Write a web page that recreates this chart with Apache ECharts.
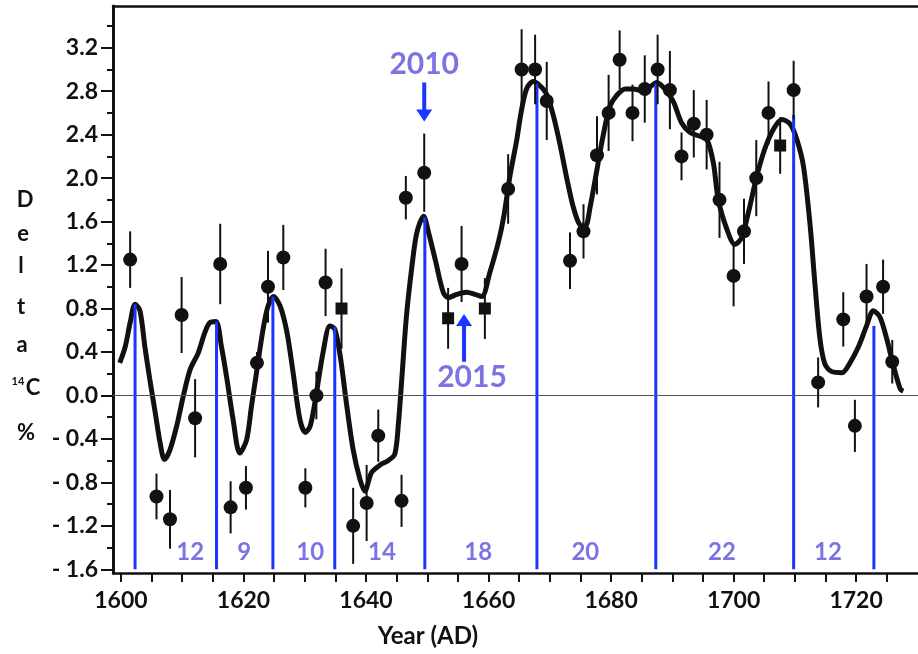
<!DOCTYPE html>
<html><head><meta charset="utf-8">
<script src="https://cdn.jsdelivr.net/npm/echarts@6/dist/echarts.min.js"></script>
<style>html,body{margin:0;padding:0;background:#fff}#c{width:918px;height:654px}</style>
</head><body><div id="c"></div>
<script>
// ---- data ----
const obsYears  = [1601.5,1605.8,1608.0,1609.9,1612.1,1616.2,1617.9,1620.4,1622.2,1624.0,1626.5,1630.1,1631.9,1633.4,1636.0,1637.9,1640.1,1642.0,1645.8,1646.5,1649.5,1653.4,1655.6,1659.4,1663.2,1665.4,1667.6,1669.5,1673.3,1675.5,1677.7,1679.6,1681.4,1683.5,1685.5,1687.6,1689.6,1691.5,1693.5,1695.6,1697.7,1700.0,1701.7,1703.7,1705.7,1707.6,1709.8,1713.8,1717.9,1719.8,1721.7,1724.4,1725.9];
const obsValues = [1.25,-0.93,-1.14,0.74,-0.21,1.21,-1.03,-0.85,0.30,1.00,1.27,-0.85,0.00,1.04,0.80,-1.20,-0.99,-0.37,-0.97,1.82,2.05,0.71,1.21,0.80,1.90,3.00,3.00,2.71,1.24,1.51,2.21,2.60,3.09,2.60,2.82,3.00,2.81,2.20,2.50,2.40,1.80,1.10,1.51,2.00,2.60,2.30,2.81,0.12,0.70,-0.28,0.91,1.00,0.31];
const obsErrors = [0.26,0.21,0.27,0.35,0.36,0.37,0.24,0.20,0.10,0.33,0.30,0.18,0.22,0.31,0.37,0.35,0.35,0.24,0.24,0.20,0.36,0.28,0.35,0.28,0.32,0.37,0.32,0.36,0.26,0.25,0.36,0.35,0.27,0.26,0.31,0.32,0.36,0.22,0.31,0.32,0.35,0.28,0.30,0.35,0.29,0.26,0.27,0.23,0.25,0.24,0.30,0.25,0.20];
const obsShapes = ['c','c','c','c','c','c','c','c','c','c','c','c','c','c','s','c','c','c','c','c','c','s','c','s','c','c','c','c','c','c','c','c','c','c','c','c','c','c','c','c','c','c','c','c','c','s','c','c','c','c','c','c','c'];

const curveYears  = [1599.8,1600.7,1601.5,1602.3,1603.1,1603.9,1604.7,1605.6,1606.4,1607.1,1608.0,1609.1,1610.2,1611.3,1612.6,1613.7,1614.5,1615.5,1616.4,1617.3,1618.3,1619.4,1620.5,1621.3,1622.2,1623.2,1624.0,1624.9,1626.0,1627.1,1628.1,1629.2,1630.1,1630.9,1631.9,1633.0,1634.1,1634.9,1635.8,1636.8,1637.9,1639.0,1639.8,1640.9,1642.3,1643.6,1644.7,1645.3,1645.8,1646.6,1647.5,1648.3,1649.4,1650.2,1651.3,1652.6,1653.4,1654.8,1656.4,1657.8,1658.9,1660.2,1661.6,1662.5,1663.5,1664.6,1665.3,1666.2,1667.3,1668.4,1669.5,1670.6,1671.7,1672.8,1673.8,1674.9,1675.8,1676.6,1677.7,1678.7,1679.8,1680.9,1682.3,1683.6,1685.3,1686.6,1687.4,1688.8,1690.2,1691.5,1692.9,1694.3,1695.6,1696.7,1697.5,1698.9,1700.2,1701.3,1702.4,1703.8,1705.1,1706.5,1707.9,1709.2,1710.3,1711.4,1712.5,1713.3,1714.1,1714.9,1716.0,1717.7,1719.0,1720.4,1721.7,1722.8,1723.9,1725.0,1726.1,1727.2,1727.7];
const curveValues = [0.30,0.45,0.67,0.84,0.78,0.45,0.15,-0.16,-0.44,-0.59,-0.50,-0.28,0.00,0.24,0.39,0.58,0.67,0.68,0.45,0.15,-0.22,-0.53,-0.41,-0.10,0.24,0.61,0.82,0.91,0.82,0.58,0.21,-0.22,-0.34,-0.28,0.02,0.40,0.64,0.61,0.36,-0.07,-0.50,-0.77,-0.88,-0.71,-0.64,-0.60,-0.54,-0.25,0.12,0.73,1.19,1.50,1.65,1.50,1.25,0.95,0.90,0.93,0.95,0.93,0.91,1.13,1.41,1.65,2.02,2.35,2.60,2.82,2.89,2.85,2.77,2.57,2.30,1.99,1.74,1.57,1.56,1.74,2.08,2.39,2.66,2.76,2.82,2.82,2.80,2.85,2.88,2.82,2.70,2.51,2.42,2.39,2.36,2.14,1.80,1.53,1.39,1.45,1.68,2.02,2.27,2.45,2.54,2.50,2.36,2.11,1.56,1.01,0.52,0.29,0.22,0.21,0.30,0.45,0.64,0.78,0.72,0.52,0.27,0.06,0.04];

const cycleYears = [1602.3,1615.6,1624.8,1634.9,1649.6,1667.9,1687.3,1709.8,1722.9];
const cycleTops  = [0.84,0.68,0.91,0.63,1.64,2.87,2.87,2.58,0.64];

const periodLabels = ['12','9','10','14','18','20','22','12'];
const periodYears  = [1611.3,1620.1,1630.9,1642.6,1658.3,1675.8,1698.1,1715.4];
const periodValue  = -1.44;

const annoLabels = ['2010','2015'];
const annoYears  = [1649.5,1657.3];
const annoValues = [3.05,0.17];
const arrowYears = [1649.5,1656.0];
const arrowFrom  = [2.88,0.31];
const arrowTo    = [2.52,0.75];

const xTickLabels = [1600,1620,1640,1660,1680,1700,1720];
const yTickLabels = [-1.6,-1.2,-0.8,-0.4,0.0,0.4,0.8,1.2,1.6,2.0,2.4,2.8,3.2];

// ---- chart ----
const X_MIN = 1598.7, X_MAX = 1730.1, Y_MIN = -1.634, Y_MAX = 3.584;
const xMinorTicks = []; for (let v = 1600; v <= 1725; v += 5) xMinorTicks.push(v);
const yMinorTicks = yTickLabels.map(v => +(v + 0.2).toFixed(1));
const FONT = 'Lato, "Open Sans", sans-serif';
const BLUE = '#1a35ff';
const LAV = '#5b50dc';
const INK = '#111';

const chart = echarts.init(document.getElementById('c'), null, {renderer:'canvas'});
const option = {
  backgroundColor: '#fff',
  animation: false,
  grid: {left: 113, right: 0, top: 6, bottom: 81},
  xAxis: [{
    type: 'value', min: X_MIN, max: X_MAX, position: 'bottom',
    axisLine: {show: true, onZero: false, lineStyle: {color: INK, width: 2.5}},
    axisTick: {show: true, customValues: xMinorTicks, length: 9, lineStyle: {color: INK, width: 2}},
    axisLabel: {customValues: xTickLabels, margin: 16, color: INK, fontSize: 23, fontWeight: 'bold', fontFamily: FONT,
      formatter: v => String(Math.round(v))},
    splitLine: {show: false}
  }, {
    type: 'value', min: X_MIN, max: X_MAX, position: 'top',
    axisLine: {show: true, onZero: false, lineStyle: {color: INK, width: 2.5}},
    axisTick: {show: false}, axisLabel: {show: false}, splitLine: {show: false}
  }],
  yAxis: [{
    type: 'value', min: Y_MIN, max: Y_MAX, position: 'left',
    axisLine: {show: true, onZero: false, lineStyle: {color: INK, width: 3}},
    axisTick: {show: true, customValues: yTickLabels, length: 12, lineStyle: {color: INK, width: 2}},
    axisLabel: {customValues: yTickLabels, margin: 15, color: INK, fontSize: 23, fontWeight: 'bold', fontFamily: FONT,
      formatter: v => (v < -1e-9 ? '- ' + Math.abs(v).toFixed(1) : Math.abs(v).toFixed(1))},
    splitLine: {show: false}
  }, {
    type: 'value', min: Y_MIN, max: Y_MAX, position: 'left', offset: 0,
    axisLine: {show: false},
    axisTick: {show: true, customValues: yMinorTicks, length: 6, lineStyle: {color: INK, width: 2}},
    axisLabel: {show: false}, splitLine: {show: false}
  }],
  graphic: [
    {type: 'text', x: 428, y: 636, style: {text: 'Year (AD)', font: 'bold 24px ' + FONT, fill: INK, align: 'center', verticalAlign: 'middle'}},
    {type: 'text', x: 25, y: 200, style: {text: 'D', font: 'bold 22px ' + FONT, fill: INK, align: 'center', verticalAlign: 'middle'}},
    {type: 'text', x: 23, y: 234, style: {text: 'e', font: 'bold 22px ' + FONT, fill: INK, align: 'center', verticalAlign: 'middle'}},
    {type: 'text', x: 21, y: 266, style: {text: 'l', font: 'bold 22px ' + FONT, fill: INK, align: 'center', verticalAlign: 'middle'}},
    {type: 'text', x: 21, y: 307, style: {text: 't', font: 'bold 22px ' + FONT, fill: INK, align: 'center', verticalAlign: 'middle'}},
    {type: 'text', x: 22, y: 345, style: {text: 'a', font: 'bold 22px ' + FONT, fill: INK, align: 'center', verticalAlign: 'middle'}},
    {type: 'text', x: 18, y: 381, style: {text: '14', font: 'bold 11px ' + FONT, fill: INK, align: 'center', verticalAlign: 'middle'}},
    {type: 'text', x: 33, y: 388, style: {text: 'C', font: 'bold 22px ' + FONT, fill: INK, align: 'center', verticalAlign: 'middle'}},
    {type: 'text', x: 26, y: 433, style: {text: '%', font: 'bold 22px ' + FONT, fill: INK, align: 'center', verticalAlign: 'middle'}}
  ],
  series: [
    {
      type: 'line', name: 'curve', z: 3,
      data: curveYears.map((y, i) => [y, curveValues[i]]),
      showSymbol: false, smooth: 0.3,
      lineStyle: {color: INK, width: 5},
      markLine: {
        silent: true, symbol: ['none', 'none'], label: {show: false},
        lineStyle: {color: '#555', width: 1.2, type: 'solid'},
        data: [{yAxis: 0}]
      }
    },
    {
      type: 'custom', name: 'cycles', z: 4,
      data: cycleYears.map((y, i) => [y, cycleTops[i]]),
      encode: {x: 0, y: 1},
      renderItem: (params, api) => {
        const p1 = api.coord([api.value(0), yTickLabels[0]]);
        const p2 = api.coord([api.value(0), api.value(1)]);
        return {type: 'line', shape: {x1: p1[0], y1: p1[1], x2: p2[0], y2: p2[1]}, style: {stroke: BLUE, lineWidth: 3}};
      }
    },
    {
      type: 'custom', name: 'errors', z: 5,
      data: obsYears.map((y, i) => [y, obsValues[i], obsErrors[i]]),
      encode: {x: 0, y: 1},
      renderItem: (params, api) => {
        const x = api.value(0), v = api.value(1), e = api.value(2);
        const p1 = api.coord([x, v - e]), p2 = api.coord([x, v + e]);
        return {type: 'line', shape: {x1: p1[0], y1: p1[1], x2: p2[0], y2: p2[1]}, style: {stroke: INK, lineWidth: 2}};
      }
    },
    {
      type: 'scatter', name: 'obs', z: 6,
      data: obsYears.map((y, i) => ({value: [y, obsValues[i]], symbol: obsShapes[i] === 's' ? 'rect' : 'circle', symbolSize: obsShapes[i] === 's' ? 12 : 14})),
      itemStyle: {color: INK, opacity: 1}
    },
    {
      type: 'scatter', name: 'periods', z: 7,
      data: periodYears.map((y, i) => ({value: [y, periodValue], name: periodLabels[i]})),
      symbolSize: 1, itemStyle: {color: 'transparent'},
      label: {show: true, position: 'inside', formatter: p => p.name, color: LAV, fontSize: 24, fontWeight: 'bold', fontFamily: FONT}
    },
    {
      type: 'scatter', name: 'anno', z: 7,
      data: annoYears.map((y, i) => ({value: [y, annoValues[i]], name: annoLabels[i]})),
      symbolSize: 1, itemStyle: {color: 'transparent'},
      label: {show: true, position: 'inside', formatter: p => p.name, color: LAV, fontSize: 30, fontWeight: 'bold', fontFamily: FONT}
    },
    {
      type: 'custom', name: 'arrows', z: 7,
      data: arrowYears.map((y, i) => [y, arrowFrom[i], arrowTo[i]]),
      encode: {x: 0, y: [1, 2]},
      renderItem: (params, api) => {
        const x = api.value(0);
        const p1 = api.coord([x, api.value(1)]), p2 = api.coord([x, api.value(2)]);
        const dir = p2[1] > p1[1] ? 1 : -1;
        const headLen = 12, headW = 8;
        const base = p2[1] - dir * headLen;
        return {type: 'group', children: [
          {type: 'line', shape: {x1: p1[0], y1: p1[1], x2: p2[0], y2: base + dir}, style: {stroke: BLUE, lineWidth: 4}},
          {type: 'polygon', shape: {points: [[p2[0] - headW, base], [p2[0] + headW, base], [p2[0], p2[1]]]}, style: {fill: BLUE}}
        ]};
      }
    }
  ]
};
chart.setOption(option);
</script>
</body></html>
